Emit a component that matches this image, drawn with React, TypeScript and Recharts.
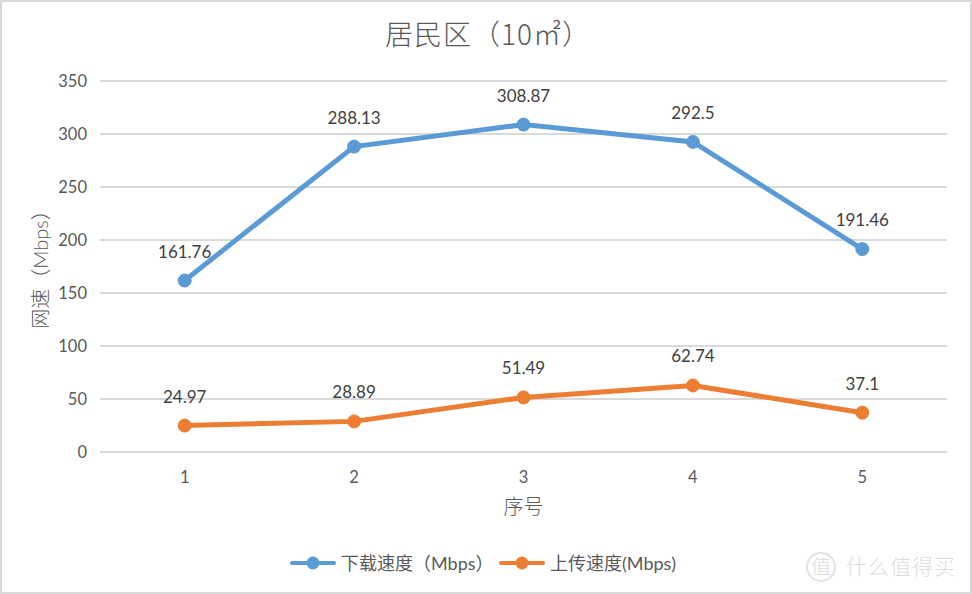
import React from 'react';
import { LineChart, Line, XAxis, YAxis, CartesianGrid, LabelList, Legend, Label } from 'recharts';

const categories = ['1', '2', '3', '4', '5'];
const downloadValues = [161.76, 288.13, 308.87, 292.5, 191.46];
const uploadValues = [24.97, 28.89, 51.49, 62.74, 37.1];
const yTicks = [0, 50, 100, 150, 200, 250, 300, 350];

const BLUE = '#5B9BD5';
const ORANGE = '#ED7D31';
const LATIN = 'Lato, "Noto Sans CJK SC", sans-serif';
const CJK = '"Noto Sans CJK SC", sans-serif';

const chartData = categories.map((name, i) => ({
  name,
  download: downloadValues[i],
  upload: uploadValues[i],
}));

const LegendIcon = ({ color }: { color: string }) => (
  <svg width={46} height={14} style={{ display: 'block' }}>
    <line x1={2} y1={7} x2={44} y2={7} stroke={color} strokeWidth={4} strokeLinecap="round" />
    <circle cx={23} cy={7} r={6.5} fill={color} />
  </svg>
);

const ChartLegend = () => (
  <div
    style={{
      position: 'absolute',
      left: 290,
      top: 551,
      display: 'flex',
      alignItems: 'center',
      fontFamily: LATIN,
      fontSize: 18,
      color: '#595959',
      whiteSpace: 'nowrap',
      lineHeight: '24px',
    }}
  >
    <LegendIcon color={BLUE} />
    <span style={{ marginLeft: 5, width: 158 }}>下载速度（Mbps）</span>
    <LegendIcon color={ORANGE} />
    <span style={{ marginLeft: 5 }}>上传速度(Mbps)</span>
  </div>
);

export default function App() {
  return (
    <div
      style={{
        position: 'absolute',
        left: 0,
        top: 0,
        width: 972,
        height: 594,
        background: '#fff',
        overflow: 'hidden',
      }}
    >
      <LineChart
        width={972}
        height={594}
        data={chartData}
        margin={{ top: 81, right: 25, bottom: 2, left: 60 }}
      >
        <CartesianGrid vertical={false} stroke="#D9D9D9" strokeWidth={2} />
        <XAxis
          dataKey="name"
          scale="band"
          height={140}
          tickLine={false}
          axisLine={{ stroke: '#D9D9D9', strokeWidth: 2 }}
          tick={{ fill: '#595959', fontSize: 16.5, fontFamily: LATIN }}
          tickMargin={13}
        >
          <Label
            value="序号"
            position="insideTop"
            offset={48}
            style={{ fill: '#595959', fontSize: 20, fontFamily: CJK, fontWeight: 300 }}
          />
        </XAxis>
        <YAxis
          width={40}
          domain={[0, 350]}
          ticks={yTicks}
          interval={0}
          tickLine={false}
          axisLine={false}
          tick={{ fill: '#595959', fontSize: 16.5, fontFamily: LATIN }}
          tickMargin={7}
        >
          <Label
            value="网速（Mbps）"
            angle={-90}
            position="center"
            dx={-39}
            dy={-2}
            style={{ fill: '#595959', fontSize: 20, fontFamily: LATIN, fontWeight: 300 }}
          />
        </YAxis>
        <Legend
          content={<ChartLegend />}
          wrapperStyle={{ left: 0, top: 0, bottom: 'auto', width: 972 }}
        />
        <Line
          dataKey="download"
          stroke={BLUE}
          strokeWidth={5}
          dot={{ r: 6.5, fill: BLUE, stroke: BLUE, strokeWidth: 1 }}
          isAnimationActive={false}
        >
          <LabelList
            dataKey="download"
            position="top"
            offset={23}
            style={{ fill: '#404040', fontSize: 17, fontFamily: LATIN }}
          />
        </Line>
        <Line
          dataKey="upload"
          stroke={ORANGE}
          strokeWidth={5}
          dot={{ r: 6.5, fill: ORANGE, stroke: ORANGE, strokeWidth: 1 }}
          isAnimationActive={false}
        >
          <LabelList
            dataKey="upload"
            position="top"
            offset={23}
            style={{ fill: '#404040', fontSize: 17, fontFamily: LATIN }}
          />
        </Line>
      </LineChart>
      <div
        style={{
          position: 'absolute',
          left: 0,
          top: 12,
          width: 976,
          textAlign: 'center',
          fontFamily: CJK,
          fontWeight: 300,
          fontSize: 28,
          letterSpacing: 1,
          lineHeight: '42px',
          color: '#595959',
        }}
      >
        居民区（10㎡）
      </div>
      <div
        style={{
          position: 'absolute',
          left: 806,
          top: 551,
          fontFamily: CJK,
          fontWeight: 300,
          fontSize: 21,
          lineHeight: '28px',
          letterSpacing: 1,
          color: '#DDDDDD',
          whiteSpace: 'nowrap',
        }}
      >
        <span
          style={{
            display: 'inline-block',
            border: '2px solid #E2E2E2',
            borderRadius: '50%',
            width: 26,
            height: 26,
            lineHeight: '24px',
            textAlign: 'center',
            fontSize: 20,
            marginRight: 10,
            letterSpacing: 0,
          }}
        >
          值
        </span>
        什么值得买
      </div>
      <div
        style={{
          position: 'absolute',
          inset: 0,
          border: '2px solid #D9D9D9',
          pointerEvents: 'none',
        }}
      />
    </div>
  );
}
